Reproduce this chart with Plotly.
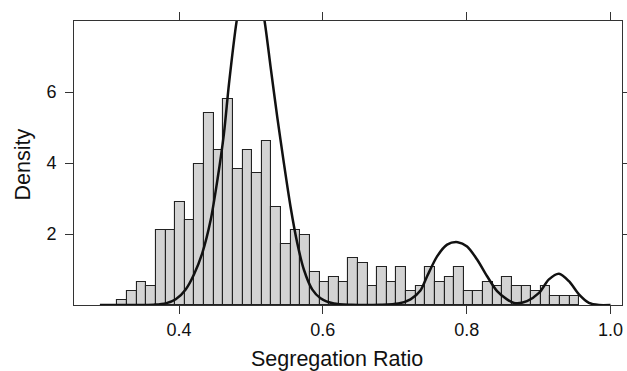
import plotly.graph_objects as go

# Histogram: 48 bins, first bin starts at bin_start, width bin_width
bin_start = 0.3144
bin_width = 0.01338
densities = [0.13, 0.39, 0.65, 0.53, 2.12, 2.12, 2.91, 2.39, 3.97, 5.41,
             4.36, 5.81, 3.83, 4.36, 3.71, 4.62, 2.77, 1.72, 2.11, 1.98,
             0.92, 0.65, 0.79, 0.65, 1.33, 1.19, 0.53, 1.06, 0.65, 1.06,
             0.39, 0.53, 1.06, 0.65, 0.79, 1.06, 0.39, 0.39, 0.65, 0.53,
             0.79, 0.53, 0.53, 0.39, 0.53, 0.26, 0.26, 0.26]

# Fitted density curve
curve_x = [0.290, 0.340, 0.365, 0.3815, 0.3955, 0.4093, 0.4208, 0.4325, 0.4441, 0.4534,
           0.4625, 0.4695, 0.4801, 0.490, 0.4995, 0.509, 0.519, 0.5274, 0.5366, 0.5459,
           0.5551, 0.5644, 0.5736, 0.5852, 0.5968, 0.6153, 0.640, 0.680, 0.705, 0.7219,
           0.7357, 0.745, 0.7589, 0.7728, 0.7876, 0.8006, 0.8145, 0.8284, 0.8423, 0.8561,
           0.868, 0.8839, 0.9006, 0.9144, 0.9283, 0.9422, 0.9561, 0.970, 0.9839, 1.0]
curve_y = [0.0, 0.0, 0.01, 0.045, 0.16, 0.44, 0.86, 1.47, 2.40, 3.52,
           4.83, 6.23, 7.99, 9.1, 9.5, 9.1, 8.0, 6.70, 5.30, 3.99,
           2.77, 1.75, 1.00, 0.44, 0.19, 0.04, 0.005, 0.005, 0.04, 0.16,
           0.41, 0.81, 1.37, 1.70, 1.77, 1.65, 1.28, 0.81, 0.39, 0.16,
           0.05, 0.11, 0.34, 0.72, 0.88, 0.67, 0.30, 0.06, 0.0, 0.0]

x_ticks = [0.4, 0.6, 0.8, 1.0]
x_tick_text = ["0.4", "0.6", "0.8", "1.0"]
y_ticks = [2, 4, 6]
x_title = "Segregation Ratio"
y_title = "Density"

centers = [bin_start + bin_width * (i + 0.5) for i in range(len(densities))]

W, H = 627, 371
ML, MR, MT, MB = 74, 5, 21, 66
PW, PH = W - ML - MR, H - MT - MB

fig = go.Figure()
fig.add_trace(go.Bar(x=centers, y=densities, width=bin_width,
                     marker=dict(color="#D3D3D3", line=dict(color="#222222", width=1.1)),
                     showlegend=False, hoverinfo="skip"))
fig.add_trace(go.Scatter(x=curve_x, y=curve_y, mode="lines",
                         line=dict(color="#111111", width=2.5, shape="spline", smoothing=0.8),
                         showlegend=False, hoverinfo="skip"))

font_family = "Liberation Sans, Arial, sans-serif"
fig.update_layout(
    width=W, height=H,
    margin=dict(l=ML, r=MR, t=MT, b=MB),
    paper_bgcolor="white", plot_bgcolor="white",
    bargap=0,
    font=dict(family=font_family, color="#111111"),
    xaxis=dict(range=[0.254, 1.016], tickvals=x_ticks, ticktext=x_tick_text,
               ticks="outside", ticklen=8, tickwidth=1, tickcolor="#333333",
               showline=True, linecolor="#333333", linewidth=1, mirror="ticks",
               showgrid=False, zeroline=False, automargin=False,
               tickfont=dict(size=18)),
    yaxis=dict(range=[0, 8], tickvals=y_ticks,
               ticks="outside", ticklen=8, tickwidth=1, tickcolor="#333333",
               showline=True, linecolor="#333333", linewidth=1, mirror="ticks",
               showgrid=False, zeroline=False, automargin=False,
               ticklabelstandoff=5,
               tickfont=dict(size=18)),
    annotations=[
        dict(text=x_title, xref="paper", yref="paper",
             x=(337 - ML) / PW, y=-(359 - MT - PH) / PH,
             xanchor="center", yanchor="middle", showarrow=False,
             font=dict(size=21.5, family=font_family, color="#111111")),
        dict(text=y_title, xref="paper", yref="paper",
             x=(22.5 - ML) / PW, y=(H - MB - 165) / PH,
             xanchor="center", yanchor="middle", showarrow=False, textangle=-90,
             font=dict(size=21.5, family=font_family, color="#111111")),
    ],
)

fig.write_html("out.html")
